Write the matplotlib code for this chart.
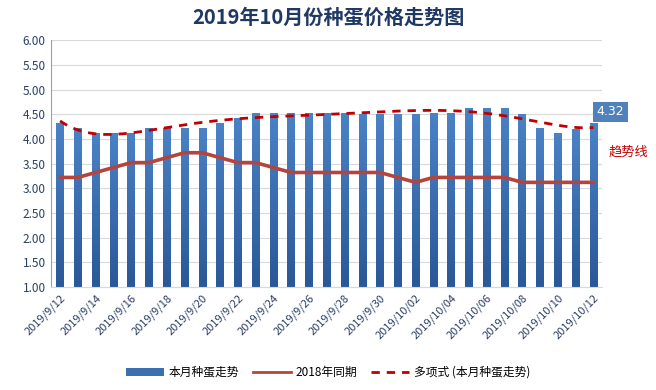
import numpy as np
import matplotlib
matplotlib.use('Agg')
import matplotlib.pyplot as plt
from matplotlib.lines import Line2D
from matplotlib.patches import Patch

plt.rcParams['font.family'] = ['Noto Sans CJK SC', 'DejaVu Sans']

# data
dates = ['2019/9/12', '2019/9/13', '2019/9/14', '2019/9/15', '2019/9/16', '2019/9/17',
         '2019/9/18', '2019/9/19', '2019/9/20', '2019/9/21', '2019/9/22', '2019/9/23',
         '2019/9/24', '2019/9/25', '2019/9/26', '2019/9/27', '2019/9/28', '2019/9/29',
         '2019/9/30', '2019/10/01', '2019/10/02', '2019/10/03', '2019/10/04', '2019/10/05',
         '2019/10/06', '2019/10/07', '2019/10/08', '2019/10/09', '2019/10/10', '2019/10/11',
         '2019/10/12']
price_2019 = [4.32, 4.22, 4.12, 4.12, 4.12, 4.22, 4.22, 4.22, 4.22, 4.32, 4.42, 4.52,
              4.52, 4.52, 4.52, 4.52, 4.52, 4.50, 4.50, 4.50, 4.50, 4.52, 4.52, 4.62,
              4.62, 4.62, 4.50, 4.22, 4.12, 4.20, 4.32]
price_2018 = [3.22, 3.22, 3.32, 3.42, 3.52, 3.52, 3.62, 3.72, 3.72, 3.62, 3.52, 3.52,
              3.42, 3.32, 3.32, 3.32, 3.32, 3.32, 3.32, 3.22, 3.12, 3.22, 3.22, 3.22,
              3.22, 3.22, 3.12, 3.12, 3.12, 3.12, 3.12]

navy = '#2b3f66'

fig = plt.figure(figsize=(6.56, 3.9), dpi=100)
ax = fig.add_axes([0.078, 0.264, 0.84, 0.633])

x = np.arange(len(dates))
bars = ax.bar(x, price_2019, width=0.42, color='#3a6fb0', zorder=2)

# vertical gradient on bars
grad = np.linspace(0, 1, 100).reshape(-1, 1)
cmap = matplotlib.colors.LinearSegmentedColormap.from_list('g', ['#2a5898', '#4a82c6'])
for b in bars:
    im = ax.imshow(grad, cmap=cmap, aspect='auto', origin='lower',
                   extent=[b.get_x(), b.get_x() + b.get_width(), 1.0, b.get_height()],
                   zorder=2.1)
    im.set_clip_path(b)

ax.plot(x, price_2018, color='#b5443f', lw=2.6, zorder=3, solid_capstyle='round')

# polynomial trend line of the bars
coef = np.polyfit(x, price_2019, 6)
xs = np.linspace(0, len(x) - 1, 300)
ax.plot(xs, np.polyval(coef, xs), color='#c00000', lw=2.0, ls=(0, (3, 2.5)), zorder=4)

ax.set_xlim(-0.5, len(x) - 0.5)
ax.set_ylim(1.0, 6.0)
ax.set_yticks(np.arange(1.0, 6.01, 0.5))
ax.set_yticklabels([f'{v:.2f}' for v in np.arange(1.0, 6.01, 0.5)], fontsize=8.5, color=navy)
ax.set_xticks(x[::2])
ax.set_xticklabels([d for d in dates[::2]], rotation=45, ha='right',
                   rotation_mode='anchor', fontsize=8, color=navy)
ax.tick_params(axis='both', length=0, pad=4)
ax.grid(axis='y', color='#d9d9d9', lw=0.8, zorder=0)
for s in ['top', 'right']:
    ax.spines[s].set_visible(False)
ax.spines['left'].set_color('#a0a0a0')
ax.spines['bottom'].set_color('#d9d9d9')

# data label on last bar
ax.text(len(x) - 1 + 0.95, 4.55, f'{price_2019[-1]:.2f}', color='white', fontsize=9,
        ha='center', va='center', family='DejaVu Sans',
        bbox=dict(boxstyle='square,pad=0.3', fc='#4f81bd', ec='none'), zorder=5, clip_on=False)
fig.text(0.958, 0.61, '趋势线', color='#c00000', fontsize=9.5, ha='center', va='center')

fig.text(0.5, 0.955, '2019年10月份种蛋价格走势图', fontsize=14.5, fontweight='bold',
         color='#1f3864', ha='center', va='center')

handles = [Patch(facecolor='#3a6fb0'),
           Line2D([0], [0], color='#b5443f', lw=2),
           Line2D([0], [0], color='#c00000', lw=2, ls=(0, (3, 2.5)))]
fig.legend(handles, ['本月种蛋走势', '2018年同期', '多项式 (本月种蛋走势)'],
           loc='center', bbox_to_anchor=(0.5, 0.045), ncol=3, frameon=False,
           fontsize=8.5, handlelength=3.2, columnspacing=1.2, handletextpad=0.4)

fig.savefig('out.png', dpi=100)
